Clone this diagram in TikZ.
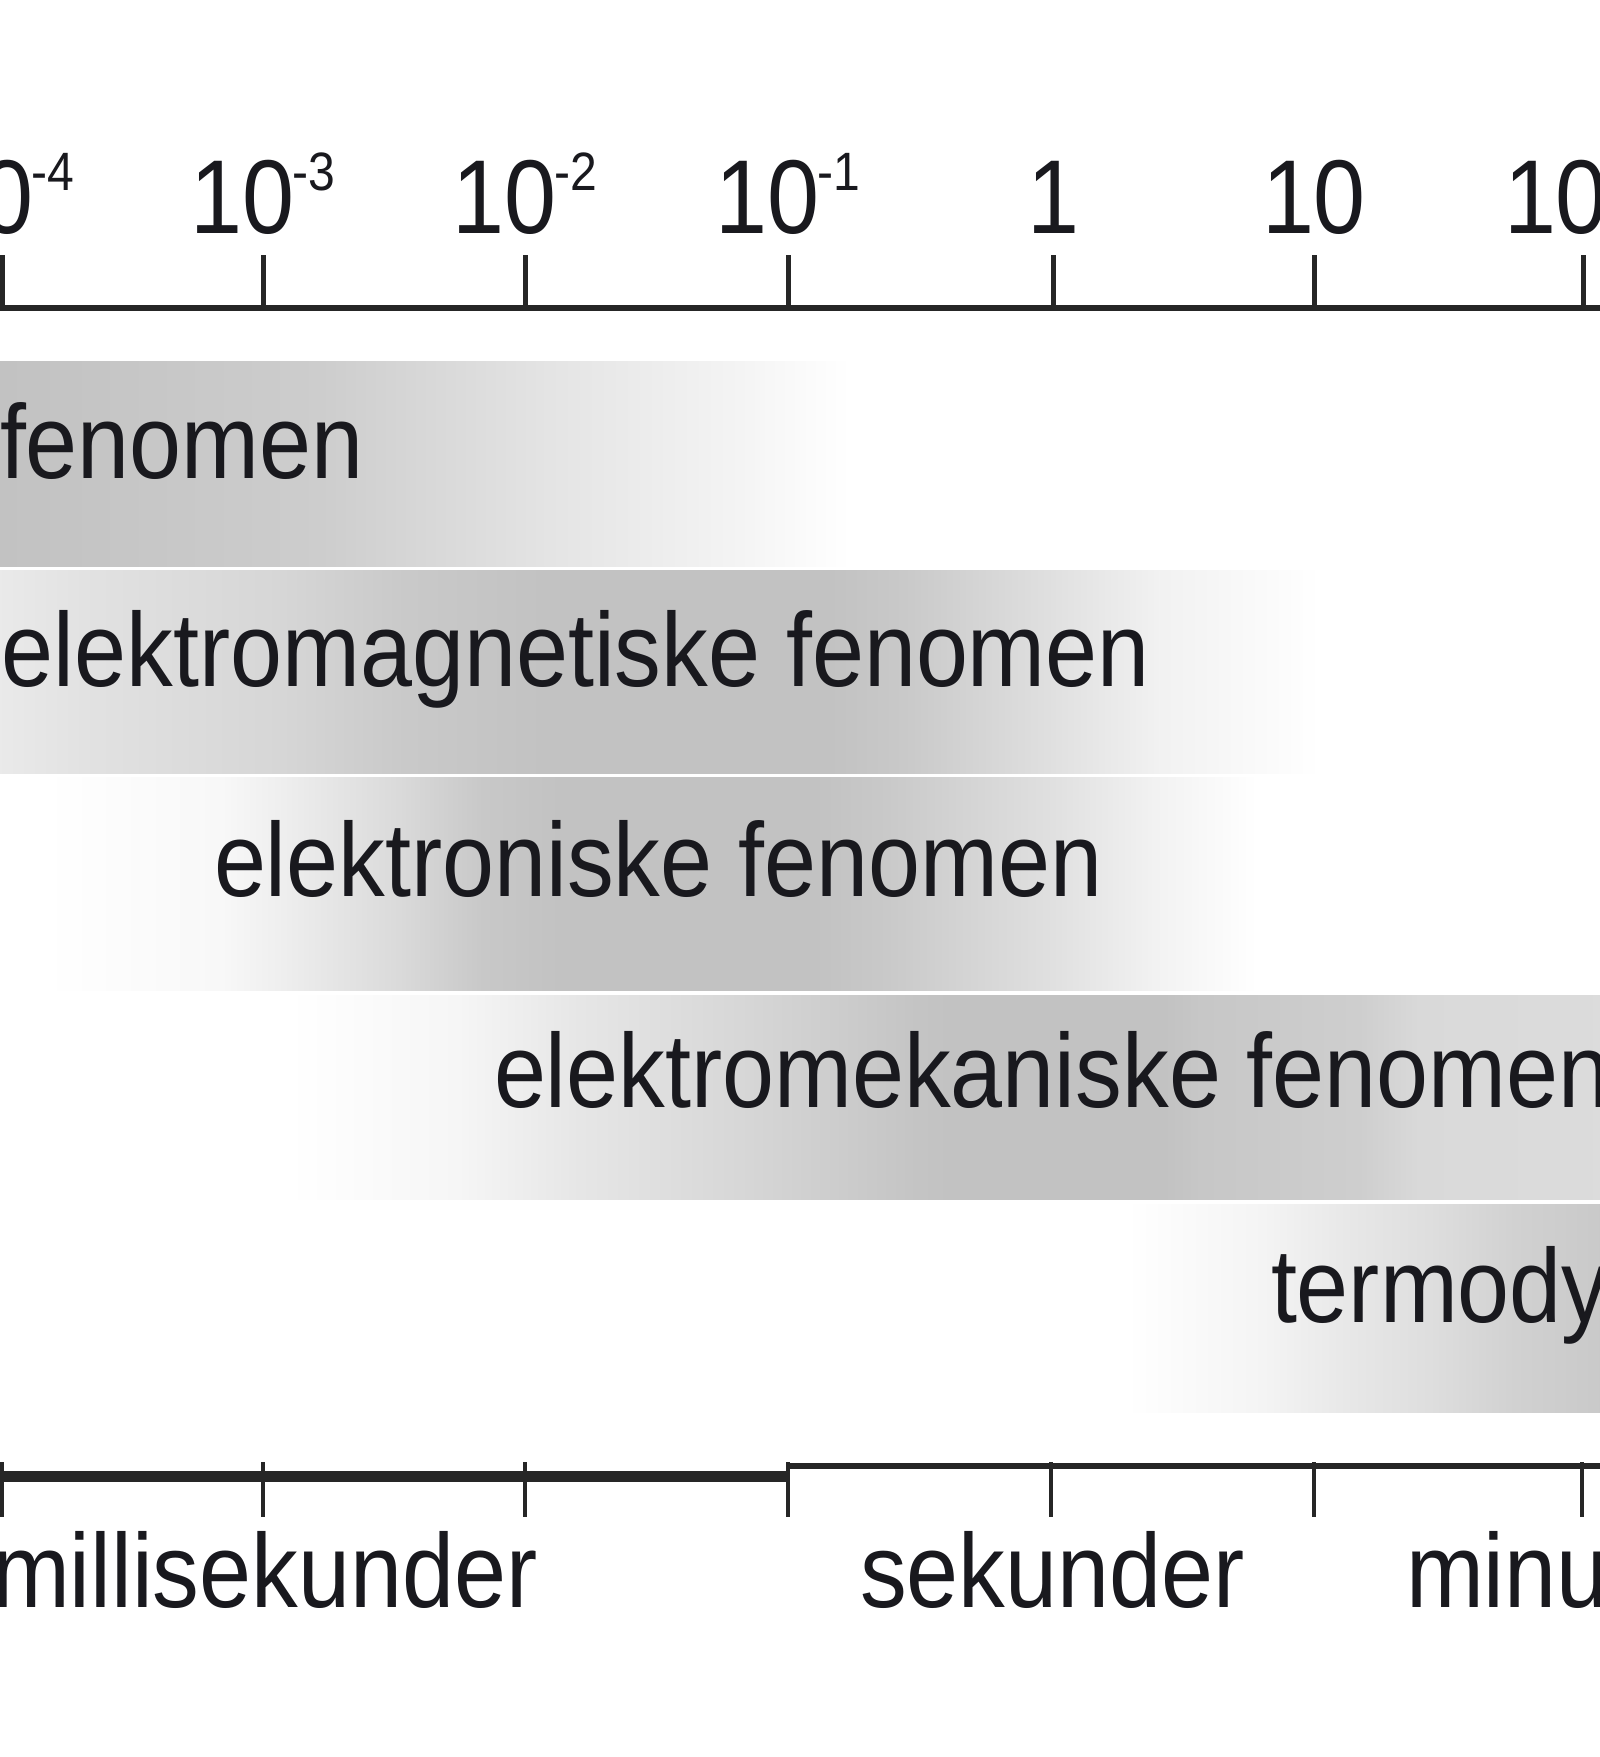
\documentclass[tikz,border=0pt]{standalone}
\usepackage{fontspec}
\setmainfont{Liberation Sans}[FakeStretch=0.89]
\definecolor{bandgray}{RGB}{194,194,194}
\definecolor{inkc}{RGB}{25,25,30}
% one horizontal band: y top, y bottom, list of x/intensity stops
\newcommand\bandrow[3]{%
  \foreach \x/\v [count=\i, remember=\x as \px (initially 0), remember=\v as \pv (initially 0)] in {#3}{%
    \ifnum\i>1
      \shade[left color=bandgray!\pv, right color=bandgray!\v] (\px-0.6,#1) rectangle (\x+0.6,#2);
    \fi
  }%
}
\newcommand\supr[1]{\kern-1pt\raisebox{21.5pt}{\fontsize{27pt}{27pt}\selectfont #1}}
\begin{document}
\begin{tikzpicture}[x=0.5pt,y=-0.5pt,
  lbl/.style={inner sep=0pt, outer sep=0pt, text=inkc, font=\fontsize{52.5pt}{60pt}\selectfont},
  axisline/.style={line width=3pt, draw=black!85},
  toptick/.style={line width=2.5pt, draw=black!85},
  bottick/.style={line width=1.8pt, draw=black!85}]
\useasboundingbox (0,0) rectangle (1600,1757);
\clip (0,0) rectangle (1600,1757);
\fill[white] (0,0) rectangle (1600,1757);

% bands
\bandrow{361}{566}{0/100, 80/96, 321/82, 545/45, 740/18, 850/0}
\bandrow{570}{773}{0/35, 86/48, 287/68, 402/88, 545/100, 830/100, 907/88, 1056/50, 1160/22, 1320/0}
\bandrow{777}{990}{45/0, 224/12, 291/30, 403/62, 482/90, 560/100, 815/100, 890/88, 1056/50, 1153/22, 1257/0}
\bandrow{995}{1199}{289/0, 459/15, 575/40, 754/68, 914/96, 950/100, 1164/100, 1200/92, 1360/80, 1420/62, 1600/58}
\bandrow{1204}{1412}{1127/0, 1263/18, 1347/38, 1433/55, 1513/75, 1600/88}

% top axis
\draw[axisline] (0,308) -- (1600,308);
\foreach \t in {2,263,525,788,1053,1314,1583}
  \draw[toptick] (\t,255) -- (\t,308);

% top labels
\node[lbl, anchor=base] (tlA) at (2,233) {10\supr{-4}};
\node[lbl, anchor=base] (tlB) at (263,233) {10\supr{-3}};
\node[lbl, anchor=base] (tlC) at (525,233) {10\supr{-2}};
\node[lbl, anchor=base] (tlD) at (788,233) {10\supr{-1}};
\node[lbl, anchor=base] (tlE) at (1053,233) {1};
\node[lbl, anchor=base] (tlF) at (1314,233) {10};
\node[lbl, anchor=base west] (tlG) at (1504,233) {10};

% band labels
\node[lbl, anchor=base west] (bA) at (0,478) {fenomen};
\node[lbl, anchor=base west] (bB) at (2,686) {elektromagnetiske fenomen};
\node[lbl, anchor=base west] (bC) at (214,896) {elektroniske fenomen};
\node[lbl, anchor=base west] (bD) at (494,1107) {elektromekaniske fenomen};
\node[lbl, anchor=base west] (bE) at (1271,1322) {termody};

% bottom axis
\draw[line width=5.5pt, draw=black!85] (0,1476) -- (788,1476);
\draw[axisline] (788,1466) -- (1600,1466);
\foreach \t in {2,263,525,788,1051,1314,1582}
  \draw[bottick] (\t,1462) -- (\t,1517);

% bottom labels
\node[lbl, anchor=base west] (uA) at (-8,1607) {millisekunder};
\node[lbl, anchor=base west] (uB) at (860,1607) {sekunder};
\node[lbl, anchor=base west] (uC) at (1406,1607) {minu};
\end{tikzpicture}
\end{document}
